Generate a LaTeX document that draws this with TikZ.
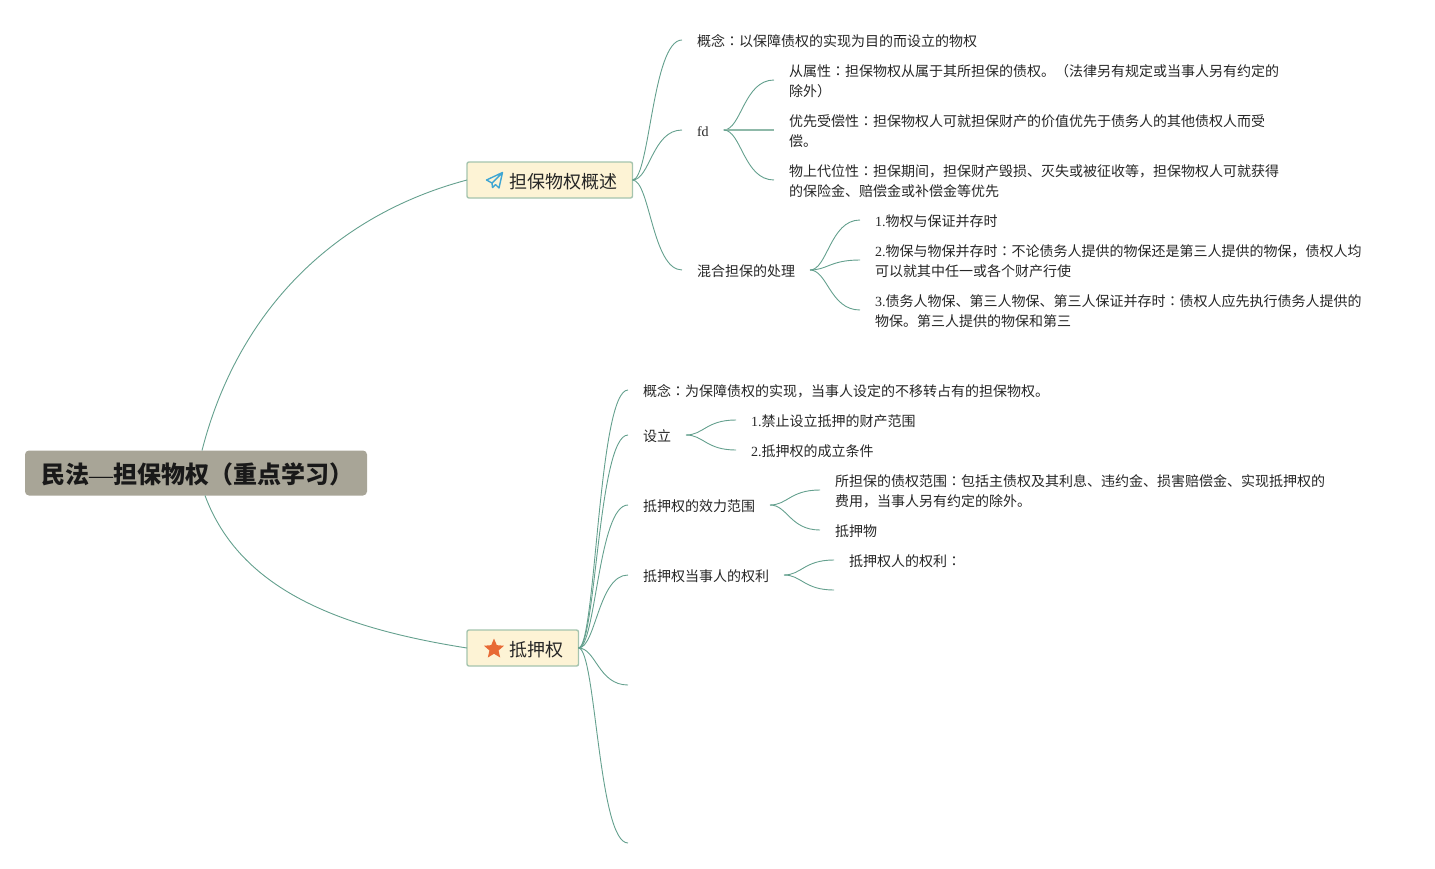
\documentclass[tikz,border=0pt]{standalone}
\usepackage{fontspec}
\usetikzlibrary{calc,shapes.geometric}
\setmainfont{Liberation Serif}
\newfontfamily\cjk{Noto Sans CJK SC}
\newfontfamily\cjktc{Noto Sans CJK TC}
\newcommand\latn[1]{{\rmfamily #1}}
\newcommand\co{{\cjktc ：}}
\newcommand\sa{\rule{0pt}{14pt}}
\newcommand\sd{\rule[-1.4pt]{0pt}{1.4pt}}
\definecolor{linkc}{HTML}{64A08E}
\definecolor{linkl}{HTML}{8FB9A9}
\definecolor{boxf}{HTML}{FDF3D5}
\definecolor{boxd}{HTML}{A5C4AE}
\definecolor{rootf}{HTML}{A8A597}
\definecolor{planec}{HTML}{3FA6D3}
\definecolor{starc}{HTML}{E86A35}
\tikzset{
  x=1pt,y=-1pt,
  link/.style={draw=linkc,line width=0.9pt},
  leaf/.style={anchor=west,inner xsep=15pt,inner ysep=0pt,outer sep=0pt,align=left,text=black!85,
    font=\cjk\fontsize{14}{20}\selectfont},
  topic/.style={draw=boxd,fill=boxf,line width=1.4pt,rounded corners=2pt,anchor=west,outer sep=0pt,
    inner sep=0pt,minimum height=36pt},
  topictext/.style={anchor=west,inner sep=0pt,text=black!85,font=\cjk\fontsize{18}{22}\selectfont},
  rootbox/.style={fill=rootf,rounded corners=4pt,anchor=west,outer sep=0pt,inner sep=0pt,
    minimum width=342pt,minimum height=45pt},
}
\newcommand\conn[2]{\draw[link] let \p1=(#1),\p2=(#2) in (\p1) .. controls ({\x1+0.35*(\x2-\x1)},\y1) and ({\x2-0.6*(\x2-\x1)},\y2) .. (\p2);}
\begin{document}
\begin{tikzpicture}
\useasboundingbox (0,0) rectangle (1435,868);
% root and main topics
\node[rootbox] (root) at (25,473) {};
\node[anchor=west,inner sep=0pt,text=black!90,font=\cjk\bfseries\fontsize{24}{28}\selectfont] (roottext) at (41,474.5) {民法\latn{\mdseries —}担保物权（重点学习）};
\node[topic,minimum width=165.5pt] (t1) at (467,180) {};
\node[topictext] (t1text) at (509,181.3) {担保物权概述};
\node[topic,minimum width=111.5pt] (t2) at (467,648) {};
\node[topictext] (t2text) at (509,649.3) {抵押权};
\draw[planec,line width=1.4pt,line join=round] (502.5,172.5) -- (486.5,180) -- (492,183) -- (492.5,187.5) -- (495.5,184.5) -- (499,188) -- cycle (502.5,172.5) -- (492,183);
\node[star,star points=5,star point ratio=2.2,fill=starc,inner sep=0pt,minimum size=21pt] (staricon) at (494,649) {};
% upper branch
\node[leaf] (a1) at (682,40) {\sa 概念\co 以保障债权的实现为目的而设立的物权\sd};
\node[leaf] (a2) at (682,130) {\sa\latn{fd}\sd};
\node[leaf] (a3) at (682,270) {\sa 混合担保的处理\sd};
\node[leaf] (a21) at (774,80) {\sa 从属性\co 担保物权从属于其所担保的债权。（法律另有规定或当事人另有约定的\\除外）\sd};
\node[leaf] (a22) at (774,130) {\sa 优先受偿性\co 担保物权人可就担保财产的价值优先于债务人的其他债权人而受\\偿。\sd};
\node[leaf] (a23) at (774,180) {\sa 物上代位性\co 担保期间，担保财产毁损、灭失或被征收等，担保物权人可就获得\\的保险金、赔偿金或补偿金等优先\sd};
\node[leaf] (a31) at (860,220) {\sa\latn{1.}物权与保证并存时\sd};
\node[leaf] (a32) at (860,260) {\sa\latn{2.}物保与物保并存时\co 不论债务人提供的物保还是第三人提供的物保，债权人均\\可以就其中任一或各个财产行使\sd};
\node[leaf] (a33) at (860,310) {\sa\latn{3.}债务人物保、第三人物保、第三人保证并存时\co 债权人应先执行债务人提供的\\物保。第三人提供的物保和第三\sd};
% lower branch
\node[leaf] (b1) at (628,390) {\sa 概念\co 为保障债权的实现，当事人设定的不移转占有的担保物权。\sd};
\node[leaf] (b2) at (628,435) {\sa 设立\sd};
\node[leaf] (b3) at (628,505) {\sa 抵押权的效力范围\sd};
\node[leaf] (b4) at (628,575) {\sa 抵押权当事人的权利\sd};
\coordinate (b5) at (628,685);
\coordinate (b6) at (628,843);
\node[leaf] (b21) at (736,420) {\sa\latn{1.}禁止设立抵押的财产范围\sd};
\node[leaf] (b22) at (736,450) {\sa\latn{2.}抵押权的成立条件\sd};
\node[leaf] (b31) at (820,490) {\sa 所担保的债权范围\co 包括主债权及其利息、违约金、损害赔偿金、实现抵押权的\\费用，当事人另有约定的除外。\sd};
\node[leaf] (b32) at (820,530) {\sa 抵押物\sd};
\node[leaf] (b41) at (834,560) {\sa 抵押权人的权利\co\sd};
\coordinate (b42) at (834,590);
% root connectors
\coordinate (rn) at ($(root.north)+(6,0)$);
\coordinate (rs) at ($(root.south)+(9,0)$);
\draw[link] (rn) .. controls (238,310) and (335,215) .. (t1.west);
\draw[link] (rs) .. controls (240,590) and (340,628) .. (t2.west);
% connectors
\conn{t1.east}{a1.west}
\conn{t1.east}{a2.west}
\conn{t1.east}{a3.west}
\conn{a2.east}{a21.west}
\draw[draw=linkl,line width=1.2pt] (a2.east) -- (a22.west);
\conn{a2.east}{a23.west}
\conn{a3.east}{a31.west}
\conn{a3.east}{a32.west}
\conn{a3.east}{a33.west}
\conn{t2.east}{b1.west}
\conn{t2.east}{b2.west}
\conn{t2.east}{b3.west}
\conn{t2.east}{b4.west}
\conn{t2.east}{b5}
\conn{t2.east}{b6}
\conn{b2.east}{b21.west}
\conn{b2.east}{b22.west}
\conn{b3.east}{b31.west}
\conn{b3.east}{b32.west}
\conn{b4.east}{b41.west}
\conn{b4.east}{b42}
\end{tikzpicture}
\end{document}
